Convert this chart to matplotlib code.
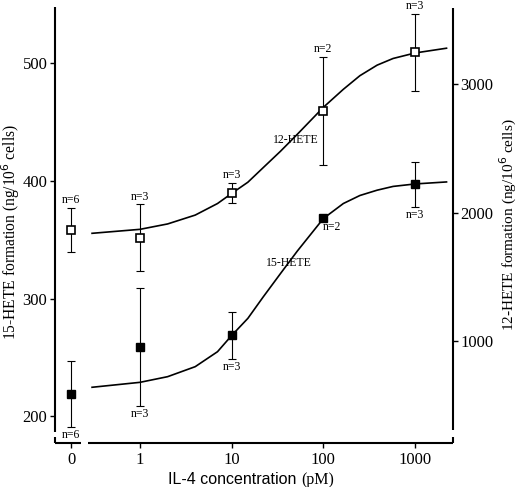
import numpy as np
import matplotlib
matplotlib.use("Agg")
import matplotlib.pyplot as plt
from matplotlib.lines import Line2D

# IL-4 concentrations (pM); 0 is drawn at its own spot left of 1
conc = [0, 1, 10, 100, 1000]
tick_labels = ["0", "1", "10", "100", "1000"]

# 15-HETE (left axis, ng/10^6 cells), filled squares
hete15_mean = [219, 259, 269, 368, 397]
hete15_sd = [28, 50, 20, 0, 19]
hete15_n = [6, 3, 3, 2, 3]

# 12-HETE (right axis, ng/10^6 cells), open squares
hete12_mean = [1866, 1806, 2157, 2793, 3249]
hete12_sd = [175, 260, 78, 420, 300]
hete12_n = [6, 3, 3, 2, 3]

# fitted curves
curve_conc = [0.3, 1, 2, 4, 7, 10, 15, 22, 34, 52, 100, 165, 250, 385, 575, 1000, 2200]
curve15 = [224.7, 228.9, 233.7, 242.2, 254.9, 268.7, 283.2, 301.3, 321.2, 340.4,
           368.0, 380.7, 387.5, 392.0, 395.2, 397.3, 399.0]
curve12 = [1840, 1871, 1913, 1982, 2072, 2151, 2238, 2351, 2479, 2612,
           2822, 2962, 3068, 3150, 3202, 3245, 3282]

ZERO_POS = -0.75


def xpos(c):
    c = np.asarray(c, dtype=float)
    out = np.full(c.shape, ZERO_POS)
    out[c > 0] = np.log10(c[c > 0])
    return out


serif = "Liberation Serif"
sans = "Liberation Sans"
plt.rcParams["font.family"] = serif

fig = plt.figure(figsize=(5.2, 4.87), dpi=100)
ax = fig.add_axes([55 / 520, 44 / 487, 398 / 520, 436 / 487])
ax2 = ax.twinx()

ax.set_xlim(-0.927, 3.413)
ax.set_ylim(177.4, 547.5)
ax2.set_ylim(206.5, 3603)

for a in (ax, ax2):
    for s in a.spines.values():
        s.set_visible(False)

# axes lines with the small breaks
lw_axis = 1.5
segs = [
    [(0, 0), (0.0653, 0)], [(0.0829, 0), (1, 0)],
    [(0, 0), (0, 0.0138)], [(0, 0.0252), (0, 1)],
    [(1, 0), (1, 0.0138)], [(1, 0.0298), (1, 0.9977)],
]
for (x0, y0), (x1, y1) in segs:
    ax.add_line(Line2D([x0, x1], [y0, y1], transform=ax.transAxes, color="black",
                       lw=lw_axis, clip_on=False, solid_capstyle="butt"))

x = xpos(conc)
cx = xpos(curve_conc)

ax.plot(cx, curve15, color="black", lw=1.2, zorder=2)
ax2.plot(cx, curve12, color="black", lw=1.2, zorder=2)

ax.errorbar(x, hete15_mean, yerr=hete15_sd, fmt="none", ecolor="black",
            elinewidth=0.8, capsize=2.6, capthick=0.8, zorder=3)
ax.plot(x, hete15_mean, "s", ms=6.3, mfc="black", mec="black", zorder=4)

ax2.errorbar(x, hete12_mean, yerr=hete12_sd, fmt="none", ecolor="black",
             elinewidth=0.8, capsize=2.6, capthick=0.8, zorder=3)
ax2.plot(x, hete12_mean, "s", ms=5.8, mfc="white", mec="black", mew=1.2, zorder=4)

# n labels
for xi, m, s, n in zip(x, hete12_mean, hete12_sd, hete12_n):
    ax2.annotate(f"n={n}", (xi, m + s), xytext=(0, 5.5), textcoords="offset points",
                 ha="center", va="center", fontsize=8.5)
dx15 = [0, 0, 0, 6, 0]
for xi, m, s, n, d in zip(x, hete15_mean, hete15_sd, hete15_n, dx15):
    off = -6.5 if s == 0 else -6
    ax.annotate(f"n={n}", (xi, m - s), xytext=(d, off), textcoords="offset points",
                ha="center", va="center", fontsize=8.5)

ax.text(1.70, 434.6, "12-HETE", ha="center", va="center", fontsize=8.5)
ax.text(1.625, 330, "15-HETE", ha="center", va="center", fontsize=8.5)

# ticks
ax.set_xticks(xpos(conc))
ax.set_xticklabels(tick_labels)
ax.set_yticks([200, 300, 400, 500])
ax2.set_yticks([1000, 2000, 3000])
ax.tick_params(axis="both", direction="out", length=3.5, width=1.0, labelsize=12, pad=2)
ax.tick_params(axis="x", pad=3)
ax2.tick_params(axis="y", direction="out", length=3.5, width=1.0, labelsize=12, pad=2)
ax2.tick_params(axis="x", bottom=False, labelbottom=False)

ax.set_ylabel("15-HETE formation (ng/10$^6$ cells)", fontsize=11.2)
ax2.set_ylabel("12-HETE formation (ng/10$^6$ cells)", fontsize=11)
ax.yaxis.set_label_coords(-0.083, 0.484)
ax2.yaxis.set_label_coords(1.112, 0.5)

fig.text(168 / 520, 3 / 487, "IL-4 concentration", fontfamily=sans, fontsize=11.5,
         ha="left", va="baseline")
fig.text(301 / 520, 3 / 487, "(pM)", fontfamily=serif, fontsize=11.5,
         ha="left", va="baseline")

fig.savefig("out.png", dpi=100)
